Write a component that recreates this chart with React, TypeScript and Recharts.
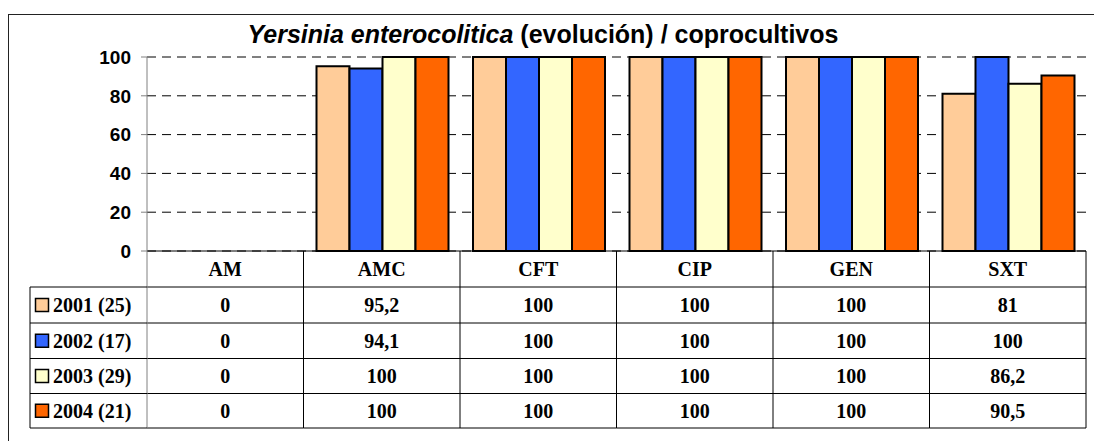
import React from 'react';
import { BarChart, Bar, XAxis, YAxis, CartesianGrid } from 'recharts';

const categories = ['AM', 'AMC', 'CFT', 'CIP', 'GEN', 'SXT'];
const series2001 = [0, 95.2, 100, 100, 100, 81];
const series2002 = [0, 94.1, 100, 100, 100, 100];
const series2003 = [0, 100, 100, 100, 100, 86.2];
const series2004 = [0, 100, 100, 100, 100, 90.5];
const seriesNames = ['2001 (25)', '2002 (17)', '2003 (29)', '2004 (21)'];
const seriesKeys = ['s2001', 's2002', 's2003', 's2004'];
const seriesColors = ['#FFCC99', '#3366FF', '#FFFFCC', '#FF6600'];
const yTicks = [0, 20, 40, 60, 80, 100];
const allSeries = [series2001, series2002, series2003, series2004];

const data = categories.map((name, i) => ({
  name,
  s2001: series2001[i],
  s2002: series2002[i],
  s2003: series2003[i],
  s2004: series2004[i],
}));

const W = 1094;
const H = 441;
const PLOT_LEFT = 147;
const PLOT_RIGHT = 1086;
const PLOT_TOP = 57;
const PLOT_BOTTOM = 251;
const Y_AXIS_W = 80;
const TABLE_LEFT = 30;
const ROW_LINES = [287, 323, 358.5, 393.5, 428];

const serif = '"Liberation Serif", "Times New Roman", serif';
const sans = '"Liberation Sans", Arial, sans-serif';

const fmt = (v: number) => String(v).replace('.', ',');

const TableTick = (props: any) => {
  const { x, payload, index } = props;
  const bw = (PLOT_RIGHT - PLOT_LEFT) / categories.length;
  const right = x + bw / 2;
  const left = x - bw / 2;
  const textStyle = { fontFamily: serif, fontWeight: 700, fontSize: 20, fill: '#000' };
  return (
    <g>
      <text x={x} y={(PLOT_BOTTOM + ROW_LINES[0]) / 2} textAnchor="middle" dominantBaseline="central" style={textStyle}>
        {payload.value}
      </text>
      {allSeries.map((s, r) => (
        <text
          key={r}
          x={x}
          y={(ROW_LINES[r] + ROW_LINES[r + 1]) / 2}
          textAnchor="middle"
          dominantBaseline="central"
          style={textStyle}
        >
          {fmt(s[index])}
        </text>
      ))}
      {ROW_LINES.map((ly, r) => (
        <line key={'h' + r} x1={left} x2={right} y1={ly} y2={ly} stroke="#000" strokeWidth={1} />
      ))}
      <line x1={right} x2={right} y1={PLOT_BOTTOM} y2={ROW_LINES[ROW_LINES.length - 1]} stroke="#000" strokeWidth={1} />
      {index === 0 && (
        <g>
          <line x1={left} x2={left} y1={PLOT_BOTTOM} y2={ROW_LINES[ROW_LINES.length - 1]} stroke="#808080" strokeWidth={1} />
          <line x1={TABLE_LEFT} x2={TABLE_LEFT} y1={ROW_LINES[0]} y2={ROW_LINES[ROW_LINES.length - 1]} stroke="#000" strokeWidth={1} />
          {ROW_LINES.map((ly, r) => (
            <line key={'lh' + r} x1={TABLE_LEFT} x2={left} y1={ly} y2={ly} stroke="#000" strokeWidth={1} />
          ))}
          {seriesNames.map((nm, r) => {
            const cy = (ROW_LINES[r] + ROW_LINES[r + 1]) / 2;
            return (
              <g key={'lg' + r}>
                <rect x={35.5} y={cy - 6.5} width={13} height={13} fill={seriesColors[r]} stroke="#000" strokeWidth={1.5} />
                <text x={53} y={cy} dominantBaseline="central" style={textStyle}>
                  {nm}
                </text>
              </g>
            );
          })}
        </g>
      )}
    </g>
  );
};

export default function App() {
  return (
    <div style={{ position: 'absolute', left: 0, top: 0, width: W, height: H, background: '#fff' }}>
      <div
        style={{
          position: 'absolute',
          left: 8,
          top: 14,
          width: W - 8,
          height: H - 14,
          borderTop: '1px solid #222',
          borderLeft: '1px solid #222',
          boxSizing: 'border-box',
        }}
      />
      <svg style={{ position: 'absolute', left: 0, top: 0 }} width={W} height={60}>
        <text
          x={543}
          y={43}
          textAnchor="middle"
          style={{ fontFamily: sans, fontWeight: 700, fontSize: 25, fill: '#000' }}
        >
          <tspan style={{ fontStyle: 'italic' }}>Yersinia enterocolitica</tspan>
          <tspan> (evolución) / coprocultivos</tspan>
        </text>
      </svg>
      <div style={{ position: 'absolute', left: 0, top: 0 }}>
        <BarChart
          width={W}
          height={H}
          data={data}
          margin={{ top: PLOT_TOP, right: W - PLOT_RIGHT, left: PLOT_LEFT - Y_AXIS_W, bottom: 0 }}
          barCategoryGap={13}
          barGap={0}
        >
          <CartesianGrid horizontal vertical={false} stroke="#000" strokeDasharray="9 6" />
          <XAxis
            dataKey="name"
            height={H - PLOT_BOTTOM}
            interval={0}
            tickLine={false}
            axisLine={{ stroke: '#000', strokeWidth: 1 }}
            tick={<TableTick />}
          />
          <YAxis
            width={Y_AXIS_W}
            domain={[0, 100]}
            ticks={yTicks}
            interval={0}
            tickSize={6}
            tickMargin={10}
            axisLine={{ stroke: '#808080', strokeWidth: 1 }}
            tickLine={{ stroke: '#808080', strokeWidth: 1 }}
            tick={{ fontFamily: sans, fontWeight: 700, fontSize: 19, fill: '#000' }}
          />
          {seriesKeys.map((k, i) => (
            <Bar key={k} dataKey={k} fill={seriesColors[i]} stroke="#000" strokeWidth={2} isAnimationActive={false} />
          ))}
        </BarChart>
      </div>
    </div>
  );
}
